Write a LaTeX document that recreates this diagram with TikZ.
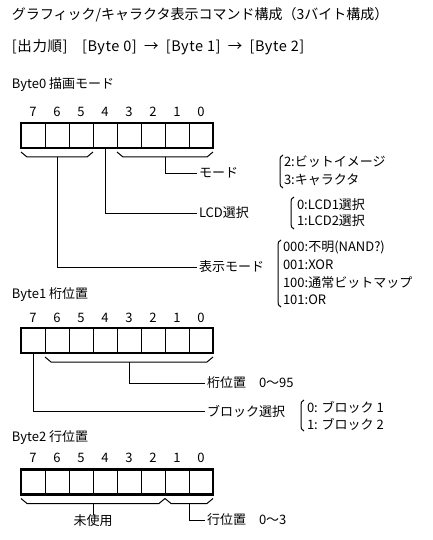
\documentclass[tikz,border=0pt]{standalone}
\usepackage{fontspec}
\setmainfont{Noto Sans CJK JP}
\usetikzlibrary{calc}
\newcommand\myparen[3]{% x, ytop, ybottom (y grows downwards)
  \draw[conn] ({#1+3},#2) .. controls ({#1},{#2+1}) and ({#1},{#2+3}) .. ({#1},{#2+6})
    -- ({#1},{#3-6}) .. controls ({#1},{#3-3}) and ({#1},{#3-1}) .. ({#1+3},#3);}
\begin{document}
\begin{tikzpicture}[x=1pt,y=-1pt,
  every node/.style={inner sep=0pt, outer sep=0pt, font=\fontsize{13}{15}\selectfont},
  cell/.style={draw, line width=1pt, minimum width=24pt, minimum height=25pt},
  frame/.style={line width=2.4pt},
  conn/.style={line width=1pt, line join=miter},
  lbl/.style={anchor=west, inner sep=2pt},
  opt/.style={anchor=west},
  ttl/.style={anchor=west, font=\fontsize{14}{16}\selectfont}]
\useasboundingbox (0,0) rectangle (432,540);
\fill[white] (0,0) rectangle (432,540);

% titles
\node[ttl] (title) at (12,15) {グラフィック/キャラクタ表示コマンド構成（3バイト構成）};
\node[ttl, font=\fontsize{14.5}{16}\selectfont\addfontfeature{LetterSpace=4}] (order) at (12,47)
  {[出力順]\quad[Byte 0]\enspace→\enspace[Byte 1]\enspace→\enspace[Byte 2]};

% ---------------- Byte 0 ----------------
\node[anchor=west] (h0) at (12,85) {Byte0 描画モード};
\foreach \b in {7,...,0} {
  \node[cell] (a\b) at ({33+24*(7-\b)},135.5) {};
  \node (na\b) at ({33+24*(7-\b)},112) {\b};
}
\draw[frame] (a7.north west) rectangle (a0.south east);

% brace bits 7-5
\draw[conn] ($(a7.south west)+(0,4)$) -- ++(6,5) -- ($(a5.south east)+(-6,9)$) -- ++(6,-5);
\coordinate (s0a) at ($(a7.south west)!0.5!(a5.south east)+(0,9)$);
% brace bits 3-0
\draw[conn] ($(a3.south west)+(0,4)$) -- ++(6,5) -- ($(a0.south east)+(-6,9)$) -- ++(6,-5);
\coordinate (s0c) at ($(a3.south west)!0.5!(a0.south east)+(0,9)$);

\node[lbl] (mode) at (197,173) {モード};
\node[lbl] (lcd) at (197,213) {LCD選択};
\node[lbl] (disp) at (197,267) {表示モード};
\draw[conn] (s0c) |- (mode.west);
\draw[conn] (a4.south) |- (lcd.west);
\draw[conn] (s0a) |- (disp.west);

\node[opt] (m2) at (284,162) {2:ビットイメージ};
\node[opt] (m3) at (284,180) {3:キャラクタ};
\myparen{280}{155}{188}
\node[opt] (l0) at (297,205) {0:LCD1選択};
\node[opt] (l1) at (297,221) {1:LCD2選択};
\myparen{291}{197}{229}
\node[opt] (d0) at (283,247) {000:不明(NAND?)};
\node[opt] (d1) at (283,265) {001:XOR};
\node[opt] (d2) at (283,283) {100:通常ビットマップ};
\node[opt] (d3) at (283,300) {101:OR};
\myparen{278}{240}{307}

% ---------------- Byte 1 ----------------
\node[anchor=west] (h1) at (12,295) {Byte1 桁位置};
\foreach \b in {7,...,0} {
  \node[cell] (b\b) at ({33+24*(7-\b)},340.5) {};
  \node (nb\b) at ({33+24*(7-\b)},318) {\b};
}
\draw[frame] (b7.north west) rectangle (b0.south east);
\draw[conn] ($(b6.south west)+(0,4)$) -- ++(6,5) -- ($(b0.south east)+(-6,9)$) -- ++(6,-5);
\coordinate (s1a) at ($(b6.south west)!0.5!(b0.south east)+(0,9)$);

\node[lbl] (col) at (205,383) {桁位置\quad 0〜95};
\node[lbl] (blk) at (205,411) {ブロック選択};
\draw[conn] (s1a) |- (col.west);
\draw[conn] (b7.south) |- (blk.west);
\node[opt] (k0) at (307,407) {0: ブロック 1};
\node[opt] (k1) at (307,424) {1: ブロック 2};
\myparen{301}{400}{431}

% ---------------- Byte 2 ----------------
\node[anchor=west] (h2) at (12,438) {Byte2 行位置};
\foreach \b in {7,...,0} {
  \node[cell] (c\b) at ({33+24*(7-\b)},482) {};
  \node (nc\b) at ({33+24*(7-\b)},458) {\b};
}
\draw[frame] (c7.north west) rectangle (c0.south east);
\draw[conn] ($(c7.south west)+(0,4)$) -- ++(6,5) -- ($(c2.south east)+(-6,9)$) -- ++(6,-5)
  -- ++(6,5) -- ($(c0.south east)+(-6,9)$) -- ++(6,-5);
\coordinate (s2a) at ($(c7.south west)!0.5!(c2.south east)+(0,9)$);
\coordinate (s2b) at ($(c1.south west)!0.5!(c0.south east)+(0,9)$);

\node[anchor=north] (unused) at (93,515) {未使用};
\node[lbl] (row) at (205,520) {行位置\quad 0〜3};
\draw[conn] (s2a) -- (unused.north);
\draw[conn] (s2b) |- (row.west);
\end{tikzpicture}
\end{document}
